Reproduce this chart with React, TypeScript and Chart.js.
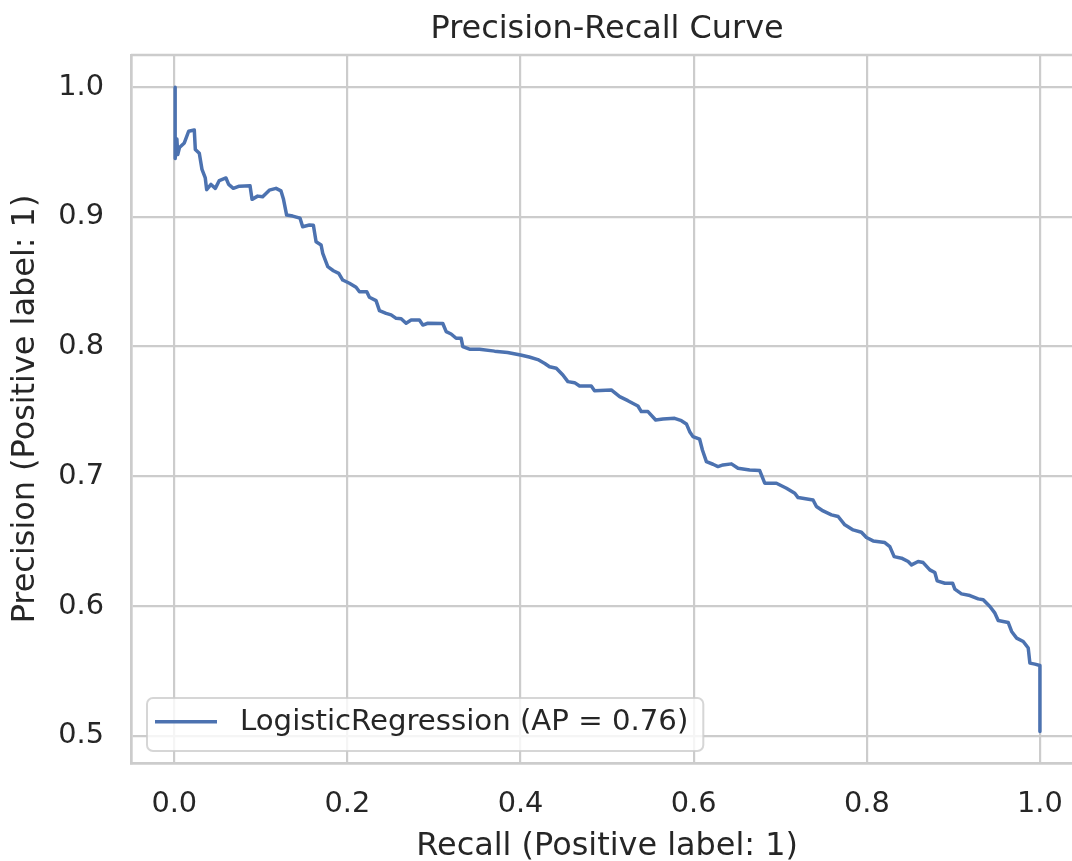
import React, { useEffect, useRef } from "react";
import { Chart, registerables } from "chart.js";

Chart.register(...registerables);

// ---- data ----
const recall = [
  0.001, 0.001, 0.003, 0.004, 0.006, 0.0116, 0.0166, 0.0231, 0.0243, 0.0289,
  0.032, 0.0358, 0.0374, 0.0424, 0.0474, 0.052, 0.0597, 0.0628, 0.0682, 0.0751,
  0.0875, 0.0898, 0.0963, 0.1021, 0.1098, 0.1175, 0.1233, 0.126, 0.1298, 0.1368,
  0.1453, 0.1483, 0.1561, 0.1607, 0.1638, 0.1696, 0.1715, 0.1773, 0.1838, 0.19,
  0.1946, 0.2023, 0.21, 0.2139, 0.2224, 0.2254, 0.2331, 0.237, 0.2447, 0.2505,
  0.2563, 0.2621, 0.2678, 0.2736, 0.2832, 0.2871, 0.2929, 0.3102, 0.3141, 0.3198,
  0.3256, 0.3314, 0.3333, 0.341, 0.3526, 0.37, 0.385, 0.4, 0.41, 0.42,
  0.428, 0.4335, 0.4413, 0.4489, 0.4547, 0.4624, 0.4682, 0.4817, 0.4855, 0.5048,
  0.5145, 0.524, 0.5356, 0.5395, 0.5472, 0.5561, 0.5645, 0.578, 0.5858, 0.5916,
  0.5954, 0.5992, 0.6069, 0.6101, 0.6147, 0.6223, 0.6281, 0.6339, 0.6436, 0.6512,
  0.6647, 0.6763, 0.6821, 0.6956, 0.7072, 0.7168, 0.7206, 0.7379, 0.7418, 0.7495,
  0.7592, 0.7669, 0.7746, 0.7842, 0.7938, 0.7996, 0.8073, 0.8208, 0.8266, 0.8316,
  0.8401, 0.8478, 0.8517, 0.8593, 0.8651, 0.8728, 0.8786, 0.8813, 0.8902, 0.8991,
  0.9017, 0.9094, 0.9191, 0.9287, 0.9345, 0.9422, 0.948, 0.9518, 0.9634, 0.9673,
  0.9731, 0.9807, 0.9865, 0.9884, 0.9942, 1.0, 1.0,
];
const precision = [
  1.0, 0.945, 0.96, 0.948, 0.9535, 0.957, 0.966, 0.967, 0.952, 0.949,
  0.9366, 0.93, 0.921, 0.925, 0.922, 0.928, 0.93, 0.925, 0.922, 0.9237,
  0.924, 0.9135, 0.916, 0.9155, 0.9206, 0.922, 0.92, 0.914, 0.9014, 0.9006,
  0.899, 0.8924, 0.8937, 0.8935, 0.8808, 0.8783, 0.8719, 0.8616, 0.8585, 0.8565,
  0.8513, 0.8488, 0.8457, 0.8423, 0.8423, 0.838, 0.8354, 0.8277, 0.8256, 0.8245,
  0.8218, 0.8215, 0.818, 0.8205, 0.8205, 0.8166, 0.818, 0.8178, 0.8115, 0.8097,
  0.8064, 0.8064, 0.8, 0.798, 0.798, 0.7965, 0.7955, 0.7935, 0.792, 0.79,
  0.787, 0.7845, 0.7833, 0.7781, 0.773, 0.7722, 0.7696, 0.7696, 0.766, 0.7666,
  0.7614, 0.7583, 0.7542, 0.7499, 0.7499, 0.7434, 0.7442, 0.7447, 0.7429, 0.7404,
  0.7344, 0.7306, 0.7286, 0.7203, 0.7113, 0.7093, 0.7075, 0.7088, 0.7096, 0.7062,
  0.7049, 0.7044, 0.6947, 0.6947, 0.6908, 0.687, 0.6836, 0.6818, 0.6767, 0.6733,
  0.6703, 0.669, 0.6626, 0.6587, 0.6569, 0.6528, 0.6502, 0.6489, 0.6458, 0.6381,
  0.6369, 0.6343, 0.6317, 0.6343, 0.6335, 0.6279, 0.6258, 0.6194, 0.6176, 0.6176,
  0.613, 0.6094, 0.6081, 0.6055, 0.6048, 0.5996, 0.5945, 0.5888, 0.5873, 0.5804,
  0.5753, 0.5727, 0.5676, 0.556, 0.5552, 0.5542, 0.5033,
];
const xTicks = [0.0, 0.2, 0.4, 0.6, 0.8, 1.0];
const yTicks = [0.5, 0.6, 0.7, 0.8, 0.9, 1.0];
const seriesLabel = "LogisticRegression (AP = 0.76)";
const chartTitle = "Precision-Recall Curve";
const xTitle = "Recall (Positive label: 1)";
const yTitle = "Precision (Positive label: 1)";

// ---- style ----
const FONT = "DejaVu Sans";
const TEXT = "#262626";
const GRID = "#cccccc";
const LINE = "#4c72b0";
const TICK_SIZE = 28.8;
const LEGEND_SIZE = 29.2;
const LABEL_SIZE = 31.9;

const framePlugin = {
  id: "frameAndLegend",
  afterDatasetsDraw(chart: any) {
    const { ctx, chartArea: ca } = chart;
    ctx.save();
    // top & right spines
    ctx.strokeStyle = GRID;
    ctx.lineWidth = 2.7;
    ctx.beginPath();
    ctx.moveTo(ca.left, ca.top);
    ctx.lineTo(ca.right, ca.top);
    ctx.lineTo(ca.right, ca.bottom);
    ctx.stroke();

    // legend (lower left)
    const ds = chart.data.datasets[0];
    ctx.font = `${LEGEND_SIZE}px "${FONT}"`;
    const tw = ctx.measureText(ds.label).width;
    const bx = ca.left + 16;
    const bh = 53;
    const by = ca.bottom - 12 - bh;
    const bw = 93 + tw + 15;
    const r = 6;
    ctx.beginPath();
    ctx.moveTo(bx + r, by);
    ctx.lineTo(bx + bw - r, by);
    ctx.arcTo(bx + bw, by, bx + bw, by + r, r);
    ctx.lineTo(bx + bw, by + bh - r);
    ctx.arcTo(bx + bw, by + bh, bx + bw - r, by + bh, r);
    ctx.lineTo(bx + r, by + bh);
    ctx.arcTo(bx, by + bh, bx, by + bh - r, r);
    ctx.lineTo(bx, by + r);
    ctx.arcTo(bx, by, bx + r, by, r);
    ctx.closePath();
    ctx.fillStyle = "rgba(255,255,255,0.8)";
    ctx.fill();
    ctx.strokeStyle = "rgba(204,204,204,0.8)";
    ctx.lineWidth = 2;
    ctx.stroke();

    ctx.strokeStyle = ds.borderColor;
    ctx.lineWidth = 3.5;
    ctx.beginPath();
    ctx.moveTo(bx + 8, by + 23.7);
    ctx.lineTo(bx + 70, by + 23.7);
    ctx.stroke();

    ctx.fillStyle = TEXT;
    ctx.textAlign = "left";
    ctx.textBaseline = "middle";
    ctx.fillText(ds.label, bx + 93, by + 24.5);
    ctx.restore();
  },
};

export default function App() {
  const ref = useRef<HTMLCanvasElement | null>(null);

  useEffect(() => {
    if (!ref.current) return;
    const points = recall.map((r, i) => ({ x: r, y: precision[i] }));
    const chart = new Chart(ref.current, {
      type: "line",
      data: {
        datasets: [
          {
            label: seriesLabel,
            data: points,
            borderColor: LINE,
            backgroundColor: LINE,
            borderWidth: 3.5,
            pointRadius: 0,
            tension: 0,
            fill: false,
            borderJoinStyle: "round",
          },
        ],
      },
      options: {
        responsive: false,
        animation: false,
        devicePixelRatio: 1,
        parsing: false,
        layout: { padding: { top: 0, left: 0, right: 0, bottom: 0 } },
        plugins: {
          legend: { display: false },
          tooltip: { enabled: false },
          title: {
            display: true,
            text: chartTitle,
            fullSize: false,
            color: TEXT,
            font: { family: FONT, size: LABEL_SIZE, weight: "normal" },
            padding: { top: 10.3, bottom: 6.4 },
          },
        },
        scales: {
          x: {
            type: "linear",
            min: -0.05,
            max: 1.05,
            afterBuildTicks: (scale: any) => {
              scale.ticks = xTicks.map((v) => ({ value: v }));
            },
            afterFit: (scale: any) => {
              scale.height = 98;
            },
            ticks: {
              color: TEXT,
              font: { family: FONT, size: TICK_SIZE },
              padding: 24,
              maxRotation: 0,
              autoSkip: false,
              callback: (v: any) => Number(v).toFixed(1),
            },
            grid: { color: GRID, lineWidth: 2.2, drawTicks: false },
            border: { display: true, color: GRID, width: 2.7 },
            title: {
              display: true,
              text: xTitle,
              color: TEXT,
              font: { family: FONT, size: LABEL_SIZE },
              padding: { top: 0, bottom: -5.2 },
            },
          },
          y: {
            type: "linear",
            min: 0.479,
            max: 1.0248,
            afterBuildTicks: (scale: any) => {
              scale.ticks = yTicks.map((v) => ({ value: v }));
            },
            afterFit: (scale: any) => {
              scale.width = 131;
            },
            ticks: {
              color: TEXT,
              font: { family: FONT, size: TICK_SIZE },
              padding: 27,
              autoSkip: false,
              callback: (v: any) => Number(v).toFixed(1),
            },
            grid: { color: GRID, lineWidth: 2.2, drawTicks: false },
            border: { display: true, color: GRID, width: 2.7 },
            title: {
              display: true,
              text: yTitle,
              color: TEXT,
              font: { family: FONT, size: LABEL_SIZE },
              padding: { top: 6.2, bottom: 0 },
            },
          },
        },
      },
      plugins: [framePlugin],
    } as any);
    return () => chart.destroy();
  }, []);

  return (
    <div
      style={{
        position: "fixed",
        left: 0,
        top: 0,
        width: 1072,
        height: 861,
        overflow: "hidden",
        background: "#ffffff",
      }}
    >
      <canvas ref={ref} width={1087} height={861} style={{ display: "block" }} />
    </div>
  );
}
